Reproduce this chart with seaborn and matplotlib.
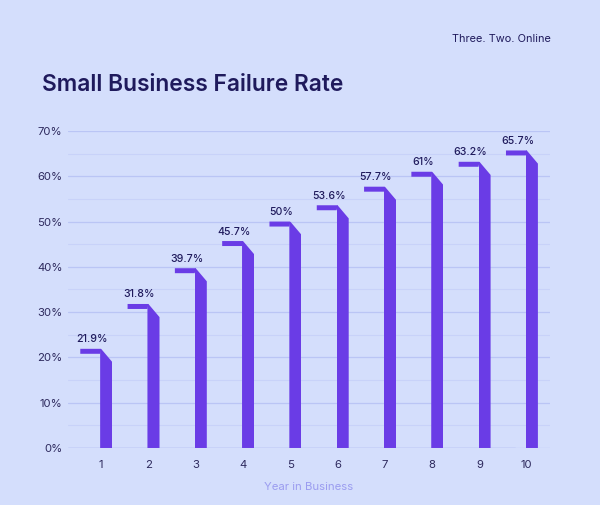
import matplotlib
matplotlib.use("Agg")
import matplotlib.pyplot as plt
import seaborn as sns
import pandas as pd
import numpy as np
from matplotlib.patches import Polygon

years = ["1", "2", "3", "4", "5", "6", "7", "8", "9", "10"]
rates = [21.9, 31.8, 39.7, 45.7, 50.0, 53.6, 57.7, 61.0, 63.2, 65.7]
labels = ["21.9%", "31.8%", "39.7%", "45.7%", "50%", "53.6%", "57.7%", "61%", "63.2%", "65.7%"]
yticks = [0, 10, 20, 30, 40, 50, 60, 70]
ytick_labels = ["0%", "10%", "20%", "30%", "40%", "50%", "60%", "70%"]

BG = "#D4DEFC"
PURPLE = "#6A3CE6"
DARK = "#1F1A5C"
TICK = "#2E2A5E"

sns.set_theme(style="white")
plt.rcParams['font.family'] = ['Inter', 'DejaVu Sans']

df = pd.DataFrame({"year": years, "rate": rates})

fig = plt.figure(figsize=(6.0, 5.05), dpi=100, facecolor=BG)
ax = fig.add_axes([0.1133, 0.1129, 0.8033, 0.6277])
ax.set_facecolor(BG)

bw = 0.255
sns.barplot(data=df, x="year", y="rate", color=PURPLE, width=bw, saturation=1,
            ax=ax, zorder=3, linewidth=0)

cap_left = 0.42
cap_h = 1.1
drop = 2.9
for i, p in enumerate(ax.patches):
    x0 = i - 0.02
    p.set_x(x0)
    v = rates[i]
    x1 = x0 + bw
    clip = Polygon([(x0, 0), (x0, v), (x0 + 0.02, v), (x1, v - drop), (x1, 0)],
                   closed=True, transform=ax.transData)
    p.set_clip_path(clip)
    cap = Polygon([(x0 - cap_left, v), (x0 + 0.02, v), (x0, v - cap_h), (x0 - cap_left, v - cap_h)],
                  closed=True, facecolor=PURPLE, edgecolor="none", zorder=3)
    ax.add_patch(cap)
    ax.text(x0 - 0.17, v + 1.0, labels[i], ha="center", va="bottom",
            fontsize=7.6, color=DARK, fontweight=500, zorder=4)

ax.set_xlim(-0.70, 9.49)
ax.set_ylim(0, 70)
ax.set_yticks(yticks)
ax.set_yticklabels(ytick_labels)
ax.set_yticks(np.arange(5, 70, 10), minor=True)
ax.grid(axis="y", which="major", color="#BAC5F5", linewidth=0.9, zorder=0)
ax.grid(axis="y", which="minor", color="#C8D2F9", linewidth=0.8, zorder=0)
ax.grid(axis="x", visible=False)
for s in ["top", "right", "left", "bottom"]:
    ax.spines[s].set_visible(False)
ax.axhline(0, xmin=0, xmax=(8.75 + 0.70) / (9.49 + 0.70), color="#A9B5F0", linewidth=1.0, zorder=2)
ax.tick_params(axis="both", which="both", length=0, colors=TICK, labelsize=8.2)
ax.tick_params(axis="y", pad=4)
ax.tick_params(axis="x", pad=9)
ax.set_xlabel("Year in Business", color="#9B9CF0", fontsize=8.2, labelpad=8)
ax.set_ylabel("")

fig.text(0.07, 0.832, "Small Business Failure Rate", fontsize=16.4, fontweight=600,
         color=DARK, ha="left", va="center")
fig.text(0.918, 0.923, "Three. Two. Online", fontsize=7.9, color=DARK,
         ha="right", va="center")

fig.savefig("out.png", dpi=100, facecolor=BG)
